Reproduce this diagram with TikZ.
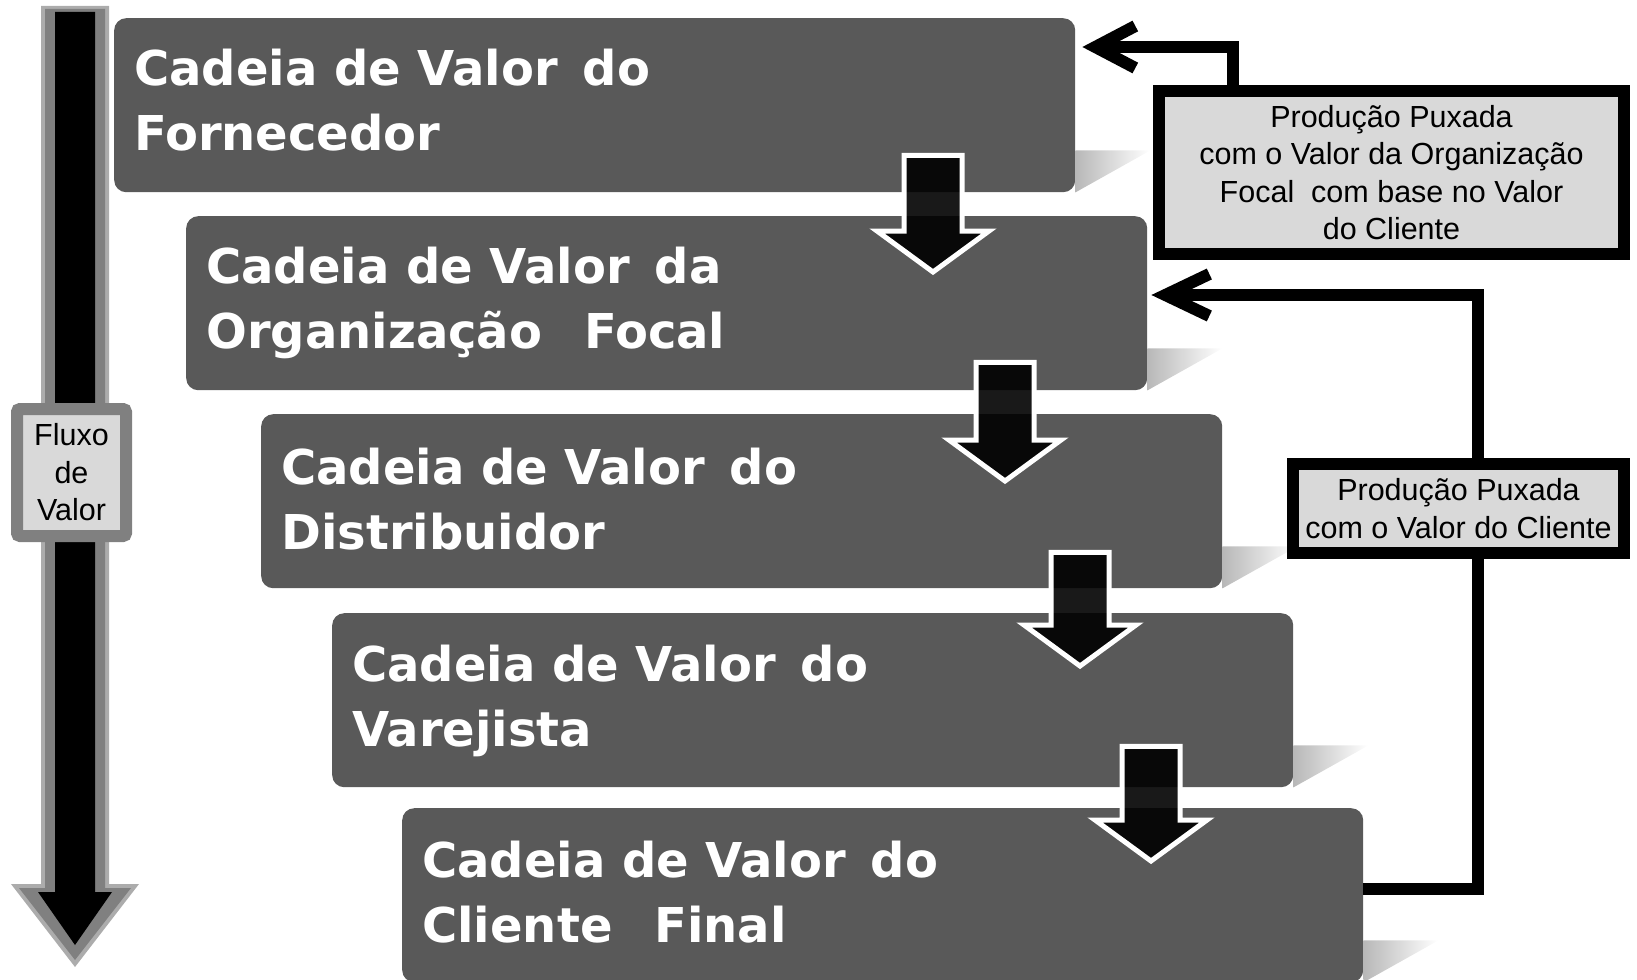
\documentclass[tikz,border=0pt]{standalone}
\usepackage{fontspec}
\usepackage{tikz}
\usetikzlibrary{arrows.meta, positioning, calc}

\newfontfamily\chainfont{DejaVu Sans}
\newfontfamily\notefont{Liberation Sans}
\definecolor{boxgray}{RGB}{89,89,89}
\definecolor{notegray}{RGB}{217,217,217}

\tikzset{
    chainbox/.style={fill=boxgray, rounded corners=12pt, minimum width=961pt, minimum height=174pt, inner sep=0pt, anchor=north west},
    chaintext/.style={text=white, font=\chainfont\bfseries\fontsize{48}{65}\selectfont, align=left, anchor=base west, inner sep=0pt},
    notebox/.style={draw=black, line width=12pt, fill=notegray, inner sep=0pt, align=center, font=\notefont\fontsize{30.5}{37.5}\selectfont},
    pull/.style={line width=12pt, -{Straight Barb[length=40pt, width=42pt]}},
    flowarrow/.style={fill=black, fill opacity=0.9, draw=white!93, line width=5pt},
    glow/.style={left color=black!28, right color=white}
}

\begin{document}
\begin{tikzpicture}[x=1pt, y=-1pt]
    \useasboundingbox (0,0) rectangle (1637,979);

    \fill[gray!65] (41,6) -- (109,6) -- (109,884) -- (139,884) -- (75,967) -- (11,884) -- (41,884) -- cycle;
    \fill[gray] (45,9) -- (105,9) -- (105,888) -- (131,888) -- (75,960) -- (19,888) -- (45,888) -- cycle;
    \fill[black] (55,12) -- (95,12) -- (95,892) -- (112,892) -- (75,945) -- (38,892) -- (55,892) -- cycle;
    \node[notebox, draw=gray, rounded corners=3pt, minimum width=109pt, minimum height=127pt] (fluxo) at (71.5,472.5) {Fluxo\\de\\Valor};

    \node[chainbox] (forn) at (114,18) {};
    \node[chainbox] (foco) at (186,216) {};
    \node[chainbox] (dist) at (261,414) {};
    \node[chainbox] (vare) at (332,613) {};
    \node[chainbox] (clie) at (402,808) {};

    \node[chaintext] (forn-t) at ($(forn.north west)+(20,132)$) {Cadeia de Valor\hspace{25pt}do\\Fornecedor};
    \node[chaintext] (foco-t) at ($(foco.north west)+(20,132)$) {Cadeia de Valor\hspace{25pt}da\\Organização\hspace{42pt}Focal};
    \node[chaintext] (dist-t) at ($(dist.north west)+(20,135)$) {Cadeia de Valor\hspace{25pt}do\\Distribuidor};
    \node[chaintext] (vare-t) at ($(vare.north west)+(20,133)$) {Cadeia de Valor\hspace{25pt}do\\Varejista};
    \node[chaintext] (clie-t) at ($(clie.north west)+(20,134)$) {Cadeia de Valor\hspace{25pt}do\\Cliente\hspace{42pt}Final};

    \foreach \bx in {forn,foco,dist,vare,clie}
        \shade[glow] let \p1=(\bx.south east) in (\x1,\y1) -- (\x1,\y1+42) -- (\x1+75,\y1+42) -- cycle;

    \foreach \ua/\lb/\dt/\db in {forn/foco/37/15, foco/dist/28/26, dist/vare/36/12, vare/clie/41/12}
        \draw[flowarrow] let \p1=(\ua.south west), \p2=(\lb.north) in
            (\x1+790,\y1+\dt) -- (\x1+848,\y1+\dt) -- (\x1+848,\y2-\db) -- (\x1+875,\y2-\db)
            -- (\x1+819,\y2-\db-41) -- (\x1+763,\y2-\db) -- (\x1+790,\y2-\db) -- cycle;

    \node[notebox, minimum width=465pt, minimum height=163pt] (puxa1) at (1391.5,172.5)
        {Produção Puxada\\com o Valor da Organização\\Focal\ \ com base no Valor\\do Cliente};
    \node[notebox, minimum width=331pt, minimum height=89pt] (puxa2) at (1458.5,508.5)
        {Produção Puxada\\com o Valor do Cliente};

    \draw[pull] ($(puxa1.north west)+(80,0)$) |- ($(forn.north east)+(7,29)$);
    \draw[line width=12pt] ($(clie.north east)+(0,81)$) -| ($(puxa2.south west)+(191,0)$);
    \draw[pull, -{Straight Barb[length=44pt, width=42pt]}] ($(puxa2.north west)+(191,0)$) |- ($(foco.north east)+(4,79)$);
\end{tikzpicture}
\end{document}
